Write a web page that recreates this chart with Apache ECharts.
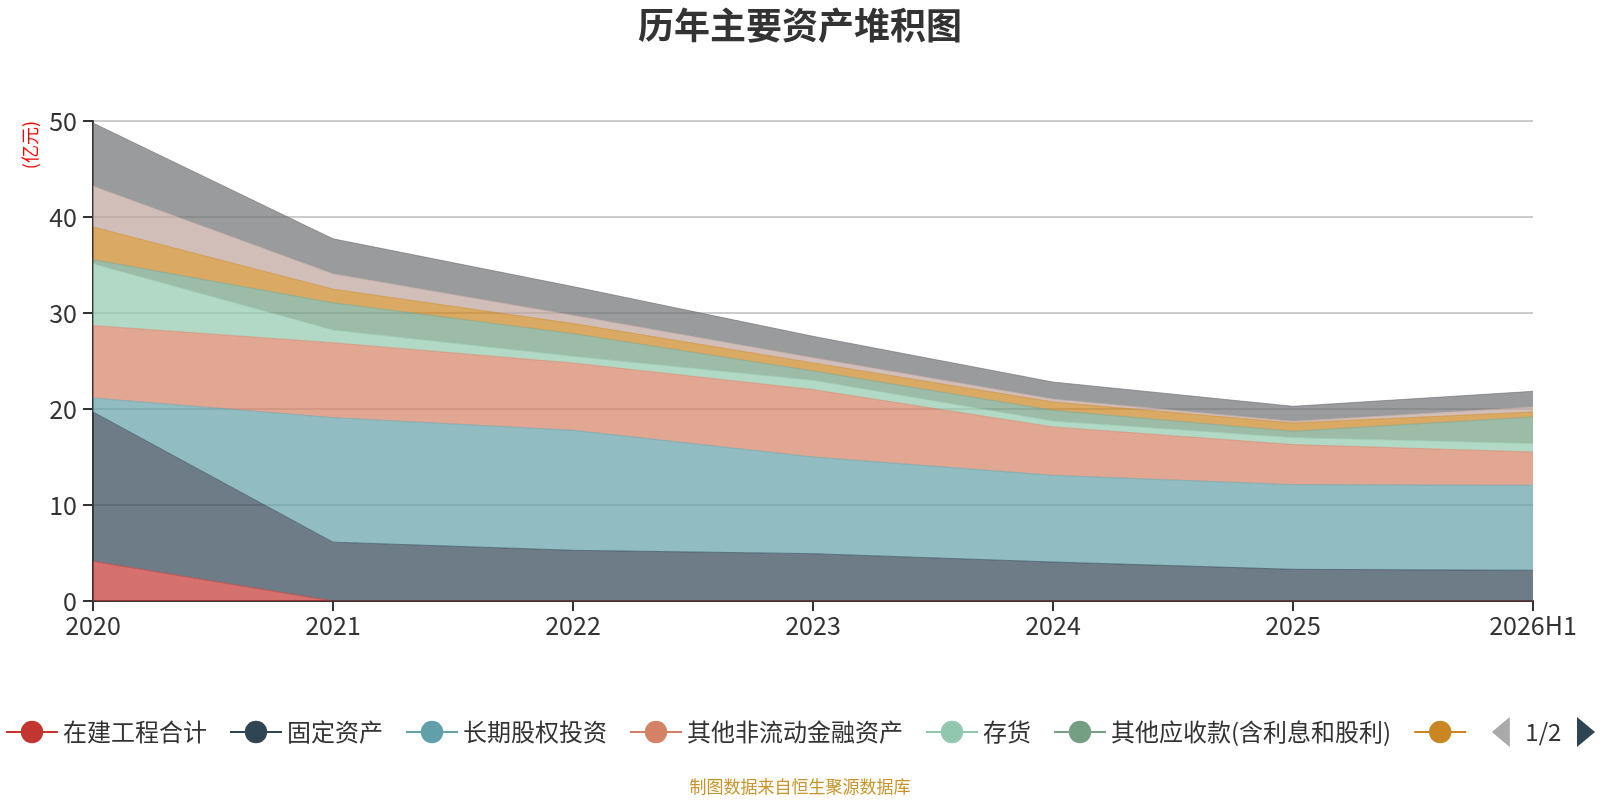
<!DOCTYPE html>
<html>
<head>
<meta charset="utf-8">
<script src="https://cdn.jsdelivr.net/npm/echarts@6/dist/echarts.min.js"></script>
<style>
  html, body { margin: 0; padding: 0; background: #fff; }
  #chart { width: 1600px; height: 800px; }
</style>
</head>
<body>
<div id="chart"></div>
<script>
const years = ['2020', '2021', '2022', '2023', '2024', '2025', '2026H1']

const seriesNames = ['在建工程合计', '固定资产', '长期股权投资', '其他非流动金融资产', '存货',
  '其他应收款(含利息和股利)', '应收账款', '货币资金', '交易性金融资产']

// 亿元
const zaijian = [4.13, 0, 0, 0, 0, 0, 0]
const gudingzichan = [15.56, 6.13, 5.28, 4.93, 4.06, 3.30, 3.20]
const changqiguquan = [1.46, 12.97, 12.50, 10.07, 9.03, 8.82, 8.85]
const qitafeiliudong = [7.54, 7.80, 7.01, 7.02, 5.04, 4.17, 3.47]
const cunhuo = [6.45, 1.33, 0.70, 0.97, 0.62, 0.73, 0.88]
const qitayingshou = [0.42, 2.83, 2.36, 0.97, 1.11, 0.66, 2.77]
const yingshouzhangkuan = [3.40, 1.42, 1.05, 0.84, 0.87, 0.86, 0.52]
const huobizijin = [4.27, 1.60, 0.86, 0.55, 0.31, 0.18, 0.52]
const jiaoyixing = [6.56, 3.65, 2.99, 2.22, 1.77, 1.56, 1.63]

const values = [zaijian, gudingzichan, changqiguquan, qitafeiliudong, cunhuo,
  qitayingshou, yingshouzhangkuan, huobizijin, jiaoyixing]

const colors = ['#c23531', '#2f4554', '#61a0a8', '#d48265', '#91c7ae',
  '#749f83', '#ca8622', '#bda29a', '#6e7074']

const font = '"Noto Sans CJK SC", "Noto Sans", sans-serif'

const chart = echarts.init(document.getElementById('chart'))

const option = {
  color: colors,
  textStyle: { fontFamily: font },
  title: [{
    text: '历年主要资产堆积图',
    left: 'center',
    top: 2,
    textStyle: { fontSize: 36, fontWeight: 'bold', color: '#333', fontFamily: font }
  }, {
    text: '制图数据来自恒生聚源数据库',
    left: 'center',
    bottom: 0,
    textStyle: { fontSize: 17, fontWeight: 'normal', color: '#c8942a', fontFamily: font }
  }],
  graphic: [{
    type: 'text',
    left: 21,
    top: 121,
    rotation: Math.PI / 2,
    style: { text: '(亿元)', fill: '#ff0000', fontSize: 18, fontFamily: font }
  }],
  legend: {
    type: 'scroll',
    left: 0,
    right: 2,
    bottom: 48,
    itemWidth: 52,
    itemHeight: 28,
    itemGap: 22,
    lineStyle: { width: 2, opacity: 1 },
    textStyle: { fontSize: 24, color: '#333', fontFamily: font },
    pageIconColor: '#2f4554',
    pageIconInactiveColor: '#aaa',
    pageIconSize: [18, 30],
    pageTextStyle: { fontSize: 24, color: '#333' },
    data: seriesNames
  },
  grid: { left: 93, right: 67, top: 121, bottom: 199 },
  xAxis: {
    type: 'category',
    boundaryGap: false,
    data: years,
    axisLine: { lineStyle: { color: '#333', width: 2 } },
    axisTick: { show: true, length: 10, lineStyle: { width: 2 } },
    axisLabel: { fontSize: 25, color: '#333', margin: 12 }
  },
  yAxis: {
    type: 'value',
    min: 0,
    max: 50,
    interval: 10,
    axisLine: { show: true, lineStyle: { color: '#333', width: 2 } },
    axisTick: { show: true, length: 10, lineStyle: { width: 2 } },
    axisLabel: { fontSize: 25, color: '#333', margin: 16 },
    splitLine: { lineStyle: { color: '#ccc', width: 2 } }
  },
  series: seriesNames.map((name, i) => ({
    name: name,
    type: 'line',
    stack: 'total',
    data: values[i],
    symbol: 'circle',
    showSymbol: false,
    lineStyle: { width: 1, opacity: 0.6 },
    areaStyle: { opacity: 0.7 }
  }))
}

chart.setOption(option)
</script>
</body>
</html>
